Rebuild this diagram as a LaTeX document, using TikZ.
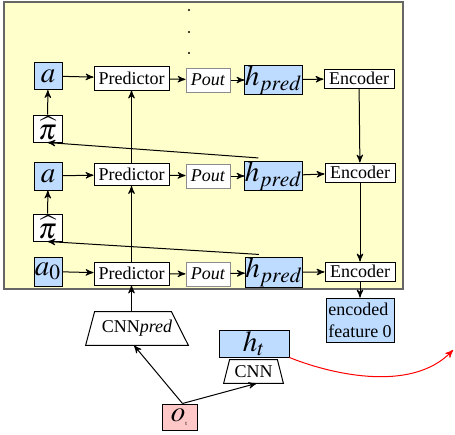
\documentclass[tikz,border=0pt]{standalone}
\usepackage{mathptmx}
\usepackage[no-math]{fontspec}
\setmainfont{Liberation Serif}
\usetikzlibrary{calc,positioning,arrows,shapes.geometric}
\definecolor{bgyellow}{RGB}{255,255,204}
\definecolor{varblue}{RGB}{190,220,255}
\definecolor{obspink}{RGB}{255,200,200}
\tikzset{
>=stealth',
  box/.style={
    rectangle,
    draw=black, line width=0.5pt,
    fill=white,
    inner sep=0pt,
    font=\fontsize{9}{11}\selectfont},
  varbox/.style={
    box,
    fill=varblue,
    font=\fontsize{14.5}{15}\selectfont},
  outbox/.style={
    box,
    draw=black!45},
  cnnbox/.style={
    rectangle,
    inner sep=0pt,
    font=\fontsize{9}{11}\selectfont},
  cnnshape/.style={draw=black, line width=0.5pt, fill=white},
  line/.style={draw, line width=0.5pt, ->},
}

\begin{document}
\begin{tikzpicture}[x=0.5pt,y=-0.5pt]
\useasboundingbox (0,0) rectangle (455,434);

% background of the unrolled predictor
\draw[fill=bgyellow, draw=black!60, line width=0.6pt] (4,2) rectangle (403,289);
\foreach \y in {10,32,53}
  \fill (189,\y) circle (1.1);

% top row
\node[varbox, minimum width=14pt, minimum height=13.5pt] (a1) at (48,76) {$a$};
\node[box, minimum width=37.5pt, minimum height=12pt] (pred1) at (131.5,78) {Predictor};
\node[outbox, minimum width=22pt, minimum height=12pt] (pout1) at (208,80) {\textit{Pout}};
\node[varbox, minimum width=27.5pt, minimum height=13pt] (hpred1) at (273.5,80) {$h_{pred}$};
\node[box, minimum width=35pt, minimum height=9.5pt] (enc1) at (359,78.5) {Encoder};
\node[box, font=\fontsize{14.5}{15}\selectfont, minimum width=14.5pt, minimum height=13.5pt] (pi1) at (47.5,128.5) {$\widehat{\pi}$};

% middle row
\node[varbox, minimum width=14pt, minimum height=14pt] (a2) at (48,176) {$a$};
\node[box, minimum width=37.5pt, minimum height=11pt] (pred2) at (131.5,174.5) {Predictor};
\node[outbox, minimum width=22pt, minimum height=12pt] (pout2) at (208,176) {\textit{Pout}};
\node[varbox, minimum width=27.5pt, minimum height=13pt] (hpred2) at (273.5,176) {$h_{pred}$};
\node[box, minimum width=35pt, minimum height=9.5pt] (enc2) at (360,172.5) {Encoder};
\node[box, font=\fontsize{14.5}{15}\selectfont, minimum width=14.5pt, minimum height=13.5pt] (pi2) at (47.5,227.5) {$\widehat{\pi}$};

% bottom row
\node[varbox, minimum width=14pt, minimum height=14.5pt] (a3) at (48,271.5) {$a_0$};
\node[box, minimum width=37.5pt, minimum height=11.5pt] (pred3) at (131.5,273.5) {Predictor};
\node[outbox, minimum width=22pt, minimum height=12pt] (pout3) at (208,274) {\textit{Pout}};
\node[varbox, minimum width=27.5pt, minimum height=14pt] (hpred3) at (274,272.5) {$h_{pred}$};
\node[box, minimum width=35pt, minimum height=9.5pt] (enc3) at (360,271.5) {Encoder};

% outside
\node[box, fill=varblue, align=left, minimum width=34pt, minimum height=22pt] (feat) at (360,320) {encoded\\feature 0};
\node[varbox, minimum width=35pt, minimum height=13.5pt] (ht) at (254,343.5) {$h_t$};
\node[varbox, fill=obspink, minimum width=17.5pt, minimum height=13pt] (obs) at (179.5,417) {$o_{\mbox{\fontsize{3}{3}\selectfont t}}$};

% the two CNNs
\node[cnnbox, minimum width=51pt, minimum height=16.5pt] (cnnpred) at (137,328.5) {};
\draw[cnnshape] (cnnpred.south west) -- (cnnpred.south east)
  -- ($(cnnpred.north east)+(-17,0)$) -- ($(cnnpred.north west)+(9,0)$) -- cycle;
\node[cnnbox] at (cnnpred) {CNN\textit{pred}};
\node[cnnbox, minimum width=29.5pt, minimum height=11.5pt] (cnn) at (253.5,371.5) {};
\draw[cnnshape] (cnn.south west) -- (cnn.south east)
  -- ($(cnn.north east)+(-6,0)$) -- ($(cnn.north west)+(6,0)$) -- cycle;
\node[cnnbox] at (cnn) {CNN};
\coordinate (redend) at (453,350);

% rows
\foreach \i in {1,2,3} {
  \draw[line] (a\i) -- (pred\i);
  \draw[line] (pred\i) -- (pout\i);
  \draw[line] (pout\i) -- (hpred\i);
  \draw[line] (hpred\i) -- (enc\i);
}
\draw[line] (pi1) -- (a1);
\draw[line] (pi2) -- (a2);
\draw[line] (pred2) -- (pred1);
\draw[line] (pred3) -- (pred2);
\draw[line] ($(hpred2.north west)+(14,-3)$) -- (pi1.south);
\draw[line] ($(hpred3.north west)+(14,-3)$) -- (pi2.south);
\draw[line] (enc1) -- (enc2);
\draw[line] (enc2) -- (enc3);
\draw[line] (enc3) -- (feat);

\draw[line] (cnnpred.north -| pred3.south) -- (pred3.south);
\draw[line] ($(obs.north)+(3,0)$) -- ($(cnnpred.south)+(-3,0)$);
\draw[line] ($(obs.north)+(3,0)$) -- ($(cnn.south)+(3,0)$);

\draw[->, red, line width=0.5pt] (ht.south east) .. controls (325,372) and (410,395) .. (redend);

  \end{tikzpicture}
\end{document}
